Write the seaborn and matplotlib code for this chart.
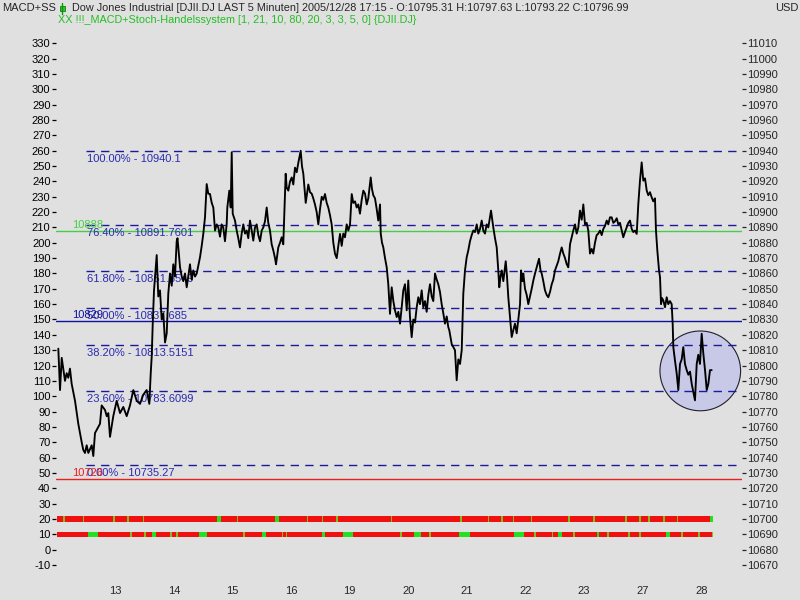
import matplotlib
matplotlib.use("Agg")
import matplotlib.pyplot as plt
from matplotlib.patches import Ellipse, Rectangle
from matplotlib.lines import Line2D
import seaborn as sns

# x positions are in trading days since the open of Dec 12
bar_day = [
    0.118, 0.147, 0.176, 0.203, 0.232, 0.261, 0.288, 0.317, 0.346, 0.403,
    0.459, 0.517, 0.544, 0.573, 0.602, 0.630, 0.688, 0.715, 0.744, 0.773,
    0.829, 0.858, 0.915, 0.944, 0.971, 1.000, 1.056, 1.114, 1.171, 1.227,
    1.285, 1.341, 1.398, 1.456, 1.512, 1.568, 1.626, 1.671, 1.695, 1.712,
    1.729, 1.751, 1.797, 1.824, 1.853, 1.882, 1.910, 1.939, 1.968, 1.995,
    2.024, 2.053, 2.080, 2.109, 2.138, 2.152, 2.195, 2.224, 2.251, 2.280,
    2.309, 2.336, 2.365, 2.394, 2.422, 2.451, 2.480, 2.507, 2.536, 2.565,
    2.592, 2.621, 2.650, 2.677, 2.706, 2.736, 2.763, 2.792, 2.821, 2.848,
    2.877, 2.906, 2.933, 2.962, 2.991, 3.002, 3.036, 3.060, 3.077, 3.094,
    3.133, 3.162, 3.189, 3.218, 3.247, 3.275, 3.304, 3.333, 3.360, 3.389,
    3.418, 3.445, 3.474, 3.503, 3.531, 3.560, 3.589, 3.616, 3.645, 3.674,
    3.701, 3.730, 3.759, 3.787, 3.816, 3.833, 3.872, 3.901, 3.930, 3.957,
    3.998, 4.015, 4.043, 4.072, 4.101, 4.128, 4.157, 4.186, 4.213, 4.254,
    4.276, 4.299, 4.340, 4.362, 4.384, 4.413, 4.442, 4.469, 4.498, 4.527,
    4.555, 4.584, 4.613, 4.640, 4.669, 4.698, 4.725, 4.754, 4.783, 4.811,
    4.840, 4.869, 4.896, 4.925, 4.954, 4.981, 5.010, 5.039, 5.067, 5.096,
    5.125, 5.152, 5.181, 5.210, 5.237, 5.266, 5.295, 5.323, 5.352, 5.381,
    5.408, 5.449, 5.471, 5.493, 5.522, 5.551, 5.578, 5.608, 5.620, 5.642,
    5.664, 5.693, 5.722, 5.749, 5.778, 5.807, 5.835, 5.863, 5.893, 5.920,
    5.949, 5.978, 6.005, 6.034, 6.063, 6.090, 6.119, 6.148, 6.176, 6.205,
    6.234, 6.261, 6.290, 6.319, 6.346, 6.375, 6.404, 6.432, 6.461, 6.490,
    6.517, 6.546, 6.575, 6.602, 6.631, 6.660, 6.688, 6.717, 6.746, 6.773,
    6.790, 6.831, 6.858, 6.887, 6.916, 6.944, 6.973, 7.002, 7.029, 7.058,
    7.087, 7.114, 7.143, 7.172, 7.200, 7.229, 7.258, 7.285, 7.314, 7.343,
    7.370, 7.399, 7.428, 7.456, 7.502, 7.541, 7.570, 7.599, 7.626, 7.643,
    7.664, 7.684, 7.712, 7.753, 7.775, 7.797, 7.826, 7.855, 7.882, 7.911,
    7.940, 7.968, 7.997, 8.014, 8.039, 8.053, 8.082, 8.111, 8.138, 8.167,
    8.196, 8.224, 8.253, 8.282, 8.321, 8.347, 8.367, 8.394, 8.423, 8.452,
    8.480, 8.509, 8.538, 8.565, 8.594, 8.623, 8.650, 8.679, 8.708, 8.736,
    8.765, 8.794, 8.821, 8.850, 8.879, 8.906, 8.935, 8.964, 8.992, 9.020,
    9.049, 9.077, 9.106, 9.135, 9.162, 9.191, 9.220, 9.247, 9.276, 9.305,
    9.333, 9.362, 9.391, 9.418, 9.447, 9.476, 9.503, 9.532, 9.561, 9.589,
    9.618, 9.647, 9.674, 9.703, 9.732, 9.759, 9.788, 9.817, 9.845, 9.874,
    9.903, 9.930, 9.959, 9.988, 10.015, 10.044, 10.073, 10.101, 10.130, 10.159,
    10.186, 10.215, 10.244, 10.271, 10.300, 10.317, 10.340, 10.369, 10.386, 10.403,
    10.420, 10.442, 10.471, 10.500, 10.527, 10.556, 10.585, 10.602, 10.613, 10.642,
    10.671, 10.698, 10.727, 10.756, 10.783, 10.812, 10.841, 10.869, 10.898, 10.927,
    10.954, 10.983, 11.012, 11.039, 11.068, 11.097, 11.125, 11.154, 11.183, 11.210,
    11.239, 11.268,
]

close = [
    10811, 10784, 10805, 10798, 10790, 10795, 10792, 10798, 10788, 10777,
    10762, 10750, 10745, 10743, 10748, 10743, 10748, 10741, 10756, 10758,
    10762, 10774, 10771, 10767, 10769, 10753.5, 10767, 10777, 10769, 10773,
    10767, 10774, 10784, 10777, 10775, 10781, 10784, 10775, 10795, 10806,
    10827, 10849, 10872, 10845, 10849, 10830, 10834, 10815, 10821, 10847,
    10860, 10852, 10866, 10858, 10881, 10883, 10864, 10858, 10855, 10860,
    10851, 10858, 10866, 10856, 10862, 10858, 10860, 10865, 10870.6, 10878,
    10885.8, 10896.6, 10918.3, 10912, 10911.8, 10906, 10903, 10888, 10892, 10890,
    10884, 10892, 10890, 10881, 10892, 10903, 10914, 10903, 10939, 10899,
    10894.5, 10888, 10883, 10877, 10886, 10892, 10886, 10888, 10883, 10894.5,
    10888, 10881.4, 10890, 10892, 10885, 10881, 10888, 10890, 10894, 10903,
    10893, 10888, 10879, 10875, 10870, 10866, 10877, 10880, 10883.6, 10879,
    10925, 10916, 10914, 10920, 10922.6, 10918, 10929, 10926, 10932, 10940,
    10930, 10925, 10906, 10912, 10918, 10913, 10912, 10909, 10905, 10900,
    10892, 10902, 10910, 10908, 10911.8, 10906, 10903, 10898, 10892, 10880,
    10872.8, 10870, 10878, 10885.8, 10878, 10886, 10883.6, 10892, 10888, 10892,
    10911.8, 10906, 10907, 10903, 10905, 10899, 10908, 10914, 10912, 10905,
    10909, 10922.6, 10915, 10911, 10909, 10902, 10894.5, 10905, 10886, 10880,
    10877, 10870, 10864, 10853, 10833.7, 10851, 10842, 10836, 10831.6, 10835,
    10827.3, 10838, 10849, 10853, 10836, 10855.4, 10831.6, 10818.5, 10830, 10828,
    10838, 10844.5, 10840, 10849, 10838, 10842, 10835, 10846, 10853, 10845,
    10842, 10860, 10856, 10853, 10848, 10840, 10834, 10827.3, 10832, 10825,
    10823, 10814, 10812, 10810, 10790.4, 10804, 10801, 10810, 10846.8, 10862,
    10870.6, 10875, 10881, 10885, 10888, 10887, 10892, 10886, 10889, 10894.5,
    10888, 10886, 10892, 10890, 10901, 10890, 10883, 10877, 10862, 10851,
    10858, 10862, 10855, 10868, 10858, 10844.5, 10831.6, 10818.6, 10823, 10827.3,
    10821, 10830, 10840, 10862, 10855, 10860, 10850, 10846, 10840, 10845,
    10850, 10855.4, 10860, 10864, 10869.6, 10862, 10860, 10855, 10849, 10846,
    10844.5, 10848, 10853, 10856, 10862, 10865, 10868, 10872.8, 10877, 10873,
    10870, 10866, 10864, 10879, 10883.6, 10888, 10892, 10886, 10890, 10901,
    10895, 10905, 10892, 10893, 10888, 10873, 10876, 10873, 10880, 10885,
    10886, 10888, 10885, 10889, 10891, 10894.5, 10892, 10896.6, 10896.6, 10893,
    10894, 10896, 10892, 10893, 10888, 10883.6, 10887, 10890, 10893, 10894.5,
    10889, 10887, 10888, 10885.8, 10905, 10920.5, 10932.4, 10920.5, 10922, 10914,
    10911, 10913, 10909.6, 10907, 10909, 10888, 10875, 10862, 10857.6, 10840,
    10844, 10842.4, 10838, 10844.5, 10840, 10842, 10840, 10827.3, 10812, 10803,
    10794.7, 10784, 10801, 10804, 10812, 10801, 10797, 10794, 10796, 10788,
    10783, 10777.3, 10801, 10807, 10801, 10820.7, 10807.8, 10797, 10784, 10788,
    10797, 10796.99,
]

# Fibonacci retracement levels
fib_pct = ["100.00%", "76.40%", "61.80%", "50.00%", "38.20%", "23.60%", "0.00%"]
fib_value = [10940.1, 10891.7601, 10861.8549, 10837.685, 10813.5151, 10783.6099, 10735.27]

# horizontal marker levels
level_value = [10888, 10829, 10726]
level_color = ["#44D044", "#1010A0", "#E82020"]

# signal strips (price level of strip, green stretches as (start, end) in days)
strip_level = [10700, 10690]
strip_green = [
    [(2.821, 2.889), (3.816, 3.889), (11.239, 11.290)],
    [(0.630, 0.790), (1.712, 1.780), (2.524, 2.650), (3.599, 3.657), (4.613, 4.669),
     (4.971, 5.142), (6.188, 6.302), (6.961, 7.143), (7.894, 8.065), (8.650, 8.708),
     (9.305, 9.350), (10.483, 10.556)],
]
# single-bar signals (thin marks)
strip_ticks = [
    [0.203, 0.534, 1.056, 1.295, 1.558, 3.162, 4.357, 4.613, 4.857, 5.790,
     6.973, 7.445, 7.672, 7.872, 8.179, 8.821, 9.247, 9.788, 10.027, 10.186,
     10.442, 10.671],
    [1.341, 1.580, 2.024, 2.126, 3.275, 3.930, 3.998, 5.949, 6.449, 8.241,
     8.538, 8.906, 9.486, 9.845, 10.032, 10.744, 11.039, 11.268],
]
strip_start, strip_end = 0.095, 11.290

# highlighted zone at the end of the series
zone_center = (11.073, 10796.5)
zone_width, zone_height = 1.376, 52

day_labels = ["13", "14", "15", "16", "19", "20", "21", "22", "23", "27", "28"]
day_start = list(range(1, 12))

axis_offset = 10680
y_ticks = list(range(10670, 11011, 10))

header = ("Dow Jones Industrial [DJII.DJ LAST 5 Minuten] 2005/12/28 17:15 - "
          "O:10795.31 H:10797.63 L:10793.22 C:10796.99")
system_line = "XX !!!_MACD+Stoch-Handelssystem [1, 21, 10, 80, 20, 3, 3, 5, 0] {DJII.DJ}"


def main():
    bg = "#E0E0E0"
    sns.set_style("white", {"axes.facecolor": bg, "figure.facecolor": bg})
    plt.rcParams["font.family"] = ["Liberation Sans", "DejaVu Sans"]
    plt.rcParams["font.size"] = 8

    fig = plt.figure(figsize=(8, 6), dpi=100)
    ax = fig.add_axes([56 / 800, 24 / 600, 686 / 800, 540 / 600])
    ax.set_xlim(0.0785, 11.785)
    ax.set_ylim(10662.8, 11014.8)

    ax.add_patch(Ellipse(zone_center, zone_width, zone_height,
                         facecolor="#C7C9E7", edgecolor="#202030", lw=0.8, zorder=1))

    for v in fib_value:
        ax.axhline(v, xmin=0.044, xmax=1, color="#1A1A9A", lw=1.0,
                   dashes=(6, 4.5), zorder=2)
    for pct, v in zip(fib_pct, fib_value):
        ax.annotate(f"{pct} - {v}", xy=(0.0447, v), xycoords=("axes fraction", "data"),
                    xytext=(0, -2.5), textcoords="offset points", va="top", ha="left",
                    color="#2A2AB0", fontsize=8, zorder=5)

    for v, c in zip(level_value, level_color):
        ax.axhline(v, color=c, lw=1.0, zorder=2)
        ax.annotate(str(v), xy=(0.024, v), xycoords=("axes fraction", "data"),
                    xytext=(0, 0.5), textcoords="offset points", va="bottom", ha="left",
                    color=c, fontsize=8, zorder=5)

    for lvl, greens, ticks in zip(strip_level, strip_green, strip_ticks):
        ax.broken_barh([(strip_start, strip_end - strip_start)], (lvl - 1.7, 3.4),
                       facecolors="#F01010", edgecolor="none", antialiased=False,
                       zorder=3)
        ax.broken_barh([(a, b - a) for a, b in greens], (lvl - 1.7, 3.4),
                       facecolors="#22E022", edgecolor="none", antialiased=False,
                       zorder=4)
        ax.broken_barh([(t, 0.03) for t in ticks], (lvl - 1.7, 3.4),
                       facecolors="#7DC020", edgecolor="none", antialiased=False,
                       zorder=4)

    sns.lineplot(x=bar_day, y=close, ax=ax, color="black", lw=1.35,
                 sort=False, estimator=None, zorder=6)

    # axes styling
    for s in ax.spines.values():
        s.set_visible(False)
    ax.set_yticks(y_ticks)
    ax.set_yticklabels([str(v - axis_offset) for v in y_ticks])
    ax.tick_params(axis="y", direction="out", length=3, width=0.9, pad=1,
                   labelsize=8, colors="black")

    noon = [0.36] + [d + 0.36 for d in day_start[:-1]]
    ax.set_xticks(sorted(day_start + noon))
    ax.set_xticklabels([])
    ax.tick_params(axis="x", which="major", direction="out", length=3.6, width=0.9)
    ax.set_xticks([d + 0.09 for d in day_start], minor=True)
    ax.set_xticklabels(day_labels, minor=True)
    ax.tick_params(axis="x", which="minor", length=0, pad=7, labelsize=8)
    ax.set_xlabel("")
    ax.set_ylabel("")

    ax2 = ax.twinx()
    ax2.set_ylim(ax.get_ylim())
    for s in ax2.spines.values():
        s.set_visible(False)
    ax2.set_yticks(y_ticks)
    ax2.set_yticklabels([str(v) for v in y_ticks])
    ax2.tick_params(axis="y", direction="out", length=3, width=0.9, pad=1, labelsize=8)

    # header lines
    fig.text(2 / 800, 1 - 8 / 600, "MACD+SS", va="center", ha="left", fontsize=8)
    fig.add_artist(Line2D([62 / 800, 62 / 800], [1 - 3 / 600, 1 - 14 / 600],
                          color="#109010", lw=1))
    fig.add_artist(Rectangle((59.5 / 800, 1 - 11 / 600), 5 / 800, 5 / 600,
                             facecolor="#22D022", edgecolor="#108010", lw=0.6))
    fig.text(72 / 800, 1 - 8 / 600, header, va="center", ha="left", fontsize=7.8)
    fig.text(58 / 800, 1 - 20 / 600, system_line, va="center", ha="left",
             fontsize=7.8, color="#22C022")
    fig.text(775 / 800, 1 - 8 / 600, "USD", va="center", ha="left", fontsize=8)

    fig.savefig("out.png", dpi=100, facecolor=bg)


if __name__ == "__main__":
    main()
